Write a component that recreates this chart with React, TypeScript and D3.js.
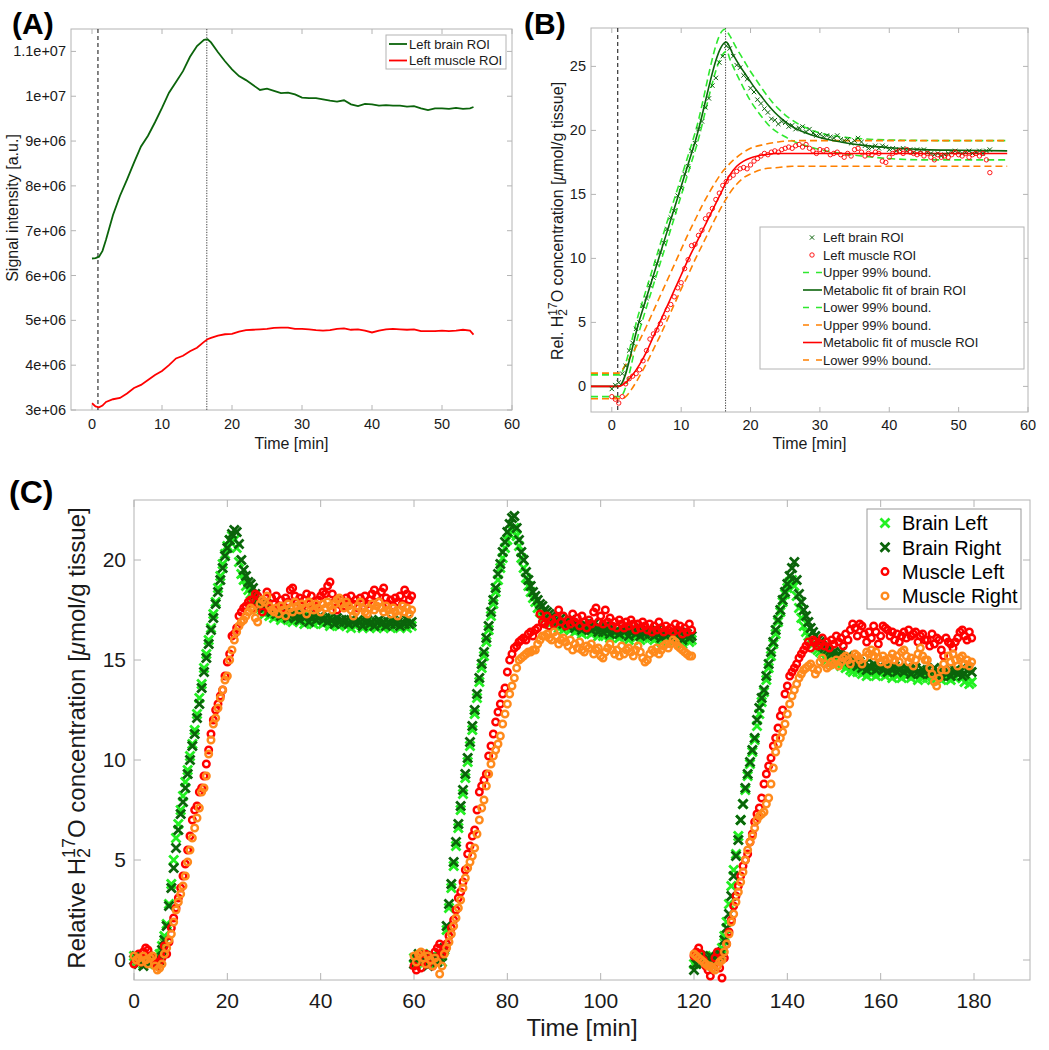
import React from "react";
import * as d3 from "d3";

// ---------------- Panel A data (signal, ×1e6 a.u.) ----------------
const timeA = [0, 0.5, 1, 1.5, 2, 3, 4, 5, 6, 7, 8, 9, 10, 11, 12, 13, 14, 15, 16, 16.5,
  17, 18, 19, 20, 21, 22, 23, 24, 25, 26, 27, 28, 29, 30, 31, 32, 33, 34, 35, 36, 37, 38, 39, 40,
  41, 42, 43, 44, 45, 46, 47, 48, 49, 50, 51, 52, 53, 54, 54.5];
const brainSignalA = [6.38, 6.39, 6.42, 6.55, 6.80, 7.35, 7.78, 8.14, 8.52, 8.88, 9.12, 9.42, 9.74, 10.08, 10.32, 10.56, 10.88, 11.12, 11.26, 11.27,
  11.20, 10.98, 10.78, 10.60, 10.45, 10.36, 10.25, 10.14, 10.17, 10.12, 10.07, 10.08, 10.04, 9.97, 9.96, 9.96, 9.93, 9.90, 9.88, 9.91, 9.82, 9.78, 9.83, 9.82,
  9.79, 9.80, 9.79, 9.79, 9.77, 9.78, 9.73, 9.69, 9.73, 9.73, 9.72, 9.74, 9.72, 9.73, 9.76];
const muscleSignalA = [3.15, 3.08, 3.06, 3.10, 3.18, 3.24, 3.27, 3.37, 3.49, 3.56, 3.67, 3.78, 3.87, 4.00, 4.15, 4.21, 4.31, 4.39, 4.52, 4.58,
  4.61, 4.66, 4.69, 4.70, 4.75, 4.78, 4.79, 4.80, 4.81, 4.83, 4.84, 4.84, 4.81, 4.81, 4.80, 4.78, 4.77, 4.78, 4.81, 4.82, 4.79, 4.80, 4.77, 4.73,
  4.77, 4.80, 4.81, 4.80, 4.79, 4.80, 4.76, 4.76, 4.76, 4.77, 4.76, 4.77, 4.79, 4.77, 4.68];
const yTicksA = [3, 4, 5, 6, 7, 8, 9, 10, 11];
const yTickLabelsA = ["3e+06", "4e+06", "5e+06", "6e+06", "7e+06", "8e+06", "9e+06", "1e+07", "1.1e+07"];
const xTicksAB = [0, 10, 20, 30, 40, 50, 60];
const injectionStart = 0.85;
const injectionEnd = 16.4;

// ---------------- Panel B data ----------------
const scatterStepB = 0.5;
const brainScatterB = [
  -0.2, 0.1, 0.3, 1.0, 1.6, 2.8, 3.4, 4.5, 5.0, 6.3,
  6.9, 7.9, 8.5, 9.6, 10.5, 11.2, 12.3, 13.2, 13.7, 14.9,
  15.5, 16.6, 17.2, 18.4, 19.0, 20.1, 20.7, 21.8, 22.5, 23.5,
  24.1, 25.3, 25.8, 26.6, 26.4, 25.8, 25.1, 24.9, 24.3, 24.0,
  23.3, 23.0, 22.4, 22.1, 21.7, 21.4, 20.9, 20.8, 20.5, 20.7,
  20.6, 20.3, 20.4, 20.1, 20.2, 20.3, 19.9, 20.1, 19.8, 19.6,
  19.7, 19.5, 19.6, 19.5, 19.4, 19.6, 19.3, 19.2, 19.3, 19.0,
  19.2, 19.4, 19.1, 18.8, 18.6, 18.7, 18.8, 18.6, 18.8, 18.7,
  18.5, 18.6, 18.4, 18.5, 18.6, 18.4, 18.5, 18.3, 18.5, 18.4,
  18.5, 18.3, 18.2, 18.1, 18.2, 18.0, 18.1, 18.2, 18.3, 18.4,
  18.3, 18.2, 18.3, 18.4, 18.2, 18.3, 18.4, 18.2, 18.4, 18.5];
const muscleScatterB = [
  -0.8, -1.0, -1.3, -0.8, 0.2, 0.6, 0.8, 1.0, 1.3, 2.0,
  2.8, 3.7, 4.1, 4.4, 4.9, 5.4, 6.0, 6.4, 7.0, 7.7,
  8.1, 9.2, 9.9, 11.0, 11.1, 11.8, 12.2, 13.1, 13.4, 13.9,
  14.6, 15.1, 15.7, 16.0, 16.3, 16.5, 16.8, 17.0, 17.1, 17.0,
  17.3, 17.6, 17.8, 18.0, 18.2, 18.1, 18.3, 18.4, 18.3, 18.5,
  18.6, 18.7, 18.6, 18.8, 18.9, 18.7, 18.9, 18.6, 18.4, 18.2,
  18.5, 18.4, 18.5, 18.1, 18.2, 18.3, 18.1, 17.9, 18.2, 18.0,
  18.5, 18.6, 18.3, 18.0, 18.2, 18.1, 18.3, 18.2, 17.6, 17.5,
  17.9, 18.2, 18.3, 18.4, 18.2, 18.5, 18.3, 18.2, 18.1, 18.2,
  18.0, 18.2, 17.9, 17.7, 18.1, 17.9, 18.0, 17.9, 18.1, 18.3,
  18.1, 18.0, 18.2, 17.9, 18.1, 18.2, 18.0, 18.2, 17.7, 16.7];

const brainFitT = [-3, 1, 4, 8, 12, 16.5, 17.5, 18.5, 19.5, 20.5, 21.5, 22.5, 23.5, 24.5, 26, 28, 30, 33, 36, 40, 45, 50, 57];
const brainFitV = [0, 0, 5.2, 12.15, 19.1, 26.9, 25.9, 25.0, 24.2, 23.4, 22.7, 22.0, 21.4, 20.9, 20.3, 19.8, 19.45, 19.1, 18.85, 18.65, 18.5, 18.45, 18.4];
const brainUpperT = [-3, 1.0, 4, 8, 12, 16.3, 17, 18, 19, 20, 21, 22, 23, 24, 25, 26, 28, 30, 33, 36, 40, 50, 57];
const brainUpperV = [0.9, 0.9, 5.9, 12.9, 19.8, 27.9, 27.4, 26.4, 25.5, 24.6, 23.8, 23.0, 22.3, 21.7, 21.2, 20.8, 20.2, 19.8, 19.5, 19.35, 19.25, 19.2, 19.2];
const brainLowerT = [-3, 1.2, 4, 8, 12, 16.6, 17, 18, 19, 20, 21, 22, 23, 24, 25, 26, 28, 30, 33, 36, 40, 45, 57];
const brainLowerV = [-0.8, -0.8, 4.4, 11.4, 18.4, 26.2, 25.6, 24.4, 23.3, 22.3, 21.5, 20.8, 20.2, 19.8, 19.5, 19.2, 18.8, 18.5, 18.2, 18.0, 17.8, 17.7, 17.7];
const muscleFitT = [-3, 1, 2, 3, 4, 5, 6, 7, 8, 9, 10, 11, 12, 13, 14, 15, 16, 16.5, 17, 18, 19, 20, 21, 22, 24, 27, 57];
const muscleFitV = [0, 0, 0.3, 0.9, 1.7, 2.7, 3.9, 5.1, 6.3, 7.5, 8.7, 9.9, 11.0, 12.1, 13.2, 14.3, 15.4, 16.0, 16.5, 17.2, 17.6, 17.85, 18.0, 18.1, 18.2, 18.2, 18.2];
const muscleUpperT = [-3, 1, 1.5, 2, 3, 4, 5, 6, 7, 8, 9, 10, 11, 12, 13, 14, 15, 16, 17, 18, 19, 20, 22, 24, 27, 57];
const muscleUpperV = [1.04, 1.04, 1.3, 1.7, 2.6, 3.6, 4.7, 5.9, 7.1, 8.3, 9.5, 10.7, 11.9, 13.0, 14.1, 15.1, 16.0, 16.8, 17.4, 17.9, 18.3, 18.6, 18.9, 19.1, 19.2, 19.2];
const muscleLowerT = [-3, 1.5, 2, 3, 4, 5, 6, 7, 8, 9, 10, 11, 12, 13, 14, 15, 16, 17, 18, 19, 20, 22, 24, 26, 28, 57];
const muscleLowerV = [-0.97, -0.97, -0.8, -0.1, 0.8, 1.8, 2.9, 4.0, 5.2, 6.4, 7.6, 8.7, 9.9, 11.0, 12.1, 13.2, 14.2, 15.1, 15.8, 16.3, 16.6, 17.0, 17.1, 17.2, 17.2, 17.2];
const yTicksB = [0, 5, 10, 15, 20, 25];

// ---------------- Panel C data (three sessions, 0.5 min sampling) ----------------
const sessionStartsC = [0, 60, 120];
const stepC = 0.5;
const brainLeftC = [
  [0.2, -0.1, 0.1, 0.0, -0.2, 0.1, -0.1, 0.0, 0.1, -0.2,
   0.0, 0.3, 0.7, 1.2, 1.8, 2.8, 3.8, 5.0, 6.1, 6.8,
   7.5, 8.2, 8.9, 9.5, 10.2, 10.8, 11.5, 12.3, 13.1, 13.8,
   14.6, 15.3, 16.0, 16.6, 17.3, 17.9, 18.6, 19.2, 19.8, 20.3,
   20.7, 21.0, 21.2, 21.0, 20.6, 19.9, 19.3, 19.0, 18.7, 18.5,
   18.3, 18.1, 17.9, 17.8, 17.6, 17.5, 17.3, 17.4, 17.2, 17.3,
   17.1, 17.3, 17.2, 17.0, 17.2, 17.1, 17.3, 17.0, 16.9, 17.1,
   17.0, 16.9, 17.1, 16.8, 17.0, 17.2, 16.9, 16.8, 17.0, 16.9,
   17.1, 16.8, 16.9, 17.0, 16.7, 16.9, 17.0, 16.8, 16.7, 16.9,
   16.8, 16.7, 16.9, 16.6, 16.8, 16.7, 16.9, 16.8, 16.6, 16.7,
   16.8, 16.6, 16.7, 16.9, 16.6, 16.8, 16.7, 16.6, 16.8, 16.7,
   16.6, 16.8, 16.7, 16.9, 16.6, 16.8, 16.7, 16.6, 16.8, 16.7],
  [0.1, -0.2, 0.2, 0.0, 0.3, -0.1, 0.1, -0.2, 0.2, 0.0,
   0.1, 0.2, -0.1, 0.5, 1.5, 2.6, 3.6, 4.7, 5.7, 6.6,
   7.5, 8.3, 9.1, 9.9, 10.7, 11.5, 12.3, 13.1, 13.9, 14.6,
   15.2, 15.9, 16.5, 17.2, 17.8, 18.4, 19.0, 19.6, 20.1, 20.6,
   21.0, 21.3, 21.5, 21.6, 21.2, 20.7, 20.1, 19.6, 19.1, 18.7,
   18.4, 18.1, 17.9, 17.6, 17.4, 17.3, 17.1, 16.9, 16.8, 16.9,
   16.7, 16.8, 16.6, 16.7, 16.5, 16.6, 16.8, 16.5, 16.7, 16.4,
   16.6, 16.5, 16.3, 16.6, 16.4, 16.5, 16.3, 16.6, 16.4, 16.2,
   16.4, 16.2, 16.5, 16.3, 16.1, 16.4, 16.2, 16.3, 16.1, 16.4,
   16.2, 16.3, 16.0, 16.2, 16.4, 16.1, 16.3, 16.0, 16.2, 16.1,
   16.3, 16.1, 16.2, 16.0, 16.3, 16.1, 15.9, 16.2, 16.0, 16.1,
   16.2, 15.9, 16.1, 16.0, 16.2, 15.8, 16.0, 16.1, 15.9, 16.0],
  [-0.2, 0.0, 0.3, 0.1, -0.1, 0.2, 0.0, -0.2, -0.3, 0.1,
   0.0, 0.2, 0.6, 1.2, 1.9, 2.8, 3.7, 4.5, 5.3, 6.2,
   7.0, 7.8, 8.5, 9.2, 9.8, 10.4, 11.0, 11.7, 12.3, 12.9,
   13.4, 14.0, 14.6, 15.2, 15.8, 16.3, 16.9, 17.4, 17.9, 18.3,
   18.6, 18.9, 19.0, 18.7, 18.2, 17.6, 17.1, 16.7, 16.4, 16.2,
   16.0, 15.8, 15.6, 15.5, 15.4, 15.3, 15.1, 15.0, 15.2, 14.9,
   15.0, 14.8, 14.9, 14.7, 14.8, 14.6, 14.7, 14.5, 14.4, 14.6,
   14.4, 14.5, 14.3, 14.5, 14.2, 14.4, 14.3, 14.5, 14.2, 14.4,
   14.3, 14.5, 14.2, 14.4, 14.3, 14.1, 14.4, 14.2, 14.3, 14.1,
   14.3, 14.2, 14.4, 14.1, 14.3, 14.2, 14.0, 14.3, 14.1, 14.2,
   14.1, 14.3, 14.0, 14.2, 14.1, 14.3, 14.0, 14.2, 14.1, 14.3,
   14.0, 14.2, 14.1, 14.3, 14.4, 14.1, 13.9, 14.2, 13.8, 13.9],
];
const brainRightC = [
  [0.0, 0.2, -0.2, 0.1, -0.3, -0.1, 0.2, -0.2, 0.0, -0.1,
   0.1, 0.0, 0.5, 1.0, 1.7, 2.7, 3.6, 4.6, 5.6, 6.5,
   7.3, 7.9, 8.6, 9.3, 10.0, 10.7, 11.3, 12.1, 12.8, 13.6,
   14.4, 15.1, 15.8, 16.5, 17.1, 17.8, 18.4, 19.0, 19.6, 20.2,
   20.6, 21.0, 21.3, 21.5, 21.4, 20.8, 20.0, 19.5, 19.2, 18.9,
   18.8, 18.6, 18.3, 18.0, 17.9, 17.7, 17.6, 17.8, 17.5, 17.4,
   17.5, 17.3, 17.4, 17.2, 17.3, 17.4, 17.1, 17.2, 17.3, 17.1,
   17.2, 17.0, 17.3, 17.1, 17.2, 16.9, 17.1, 17.3, 17.0, 17.1,
   17.2, 17.0, 17.1, 16.9, 17.1, 17.0, 16.8, 17.1, 16.9, 17.0,
   16.9, 17.0, 16.8, 17.0, 16.9, 16.8, 17.0, 16.9, 16.7, 16.9,
   17.0, 16.8, 16.9, 16.7, 16.9, 17.0, 16.8, 16.9, 16.7, 16.9,
   16.8, 17.0, 16.8, 16.9, 16.7, 16.9, 16.8, 17.0, 16.8, 16.9],
  [-0.2, 0.1, 0.3, -0.1, 0.0, 0.2, -0.3, 0.1, 0.0, 0.2,
   -0.1, 0.1, 0.2, 0.6, 1.7, 2.8, 3.8, 4.9, 5.9, 6.8,
   7.7, 8.5, 9.3, 10.1, 10.9, 11.7, 12.5, 13.3, 14.1, 14.8,
   15.4, 16.1, 16.7, 17.4, 18.0, 18.6, 19.3, 19.8, 20.4, 20.9,
   21.4, 21.8, 22.1, 22.2, 21.6, 21.0, 20.4, 20.0, 19.4, 19.0,
   18.7, 18.4, 18.2, 18.0, 17.8, 17.7, 17.5, 17.4, 17.3, 17.2,
   17.1, 17.0, 16.9, 17.1, 16.8, 16.9, 16.7, 17.0, 16.8, 16.6,
   16.8, 16.7, 16.5, 16.8, 16.6, 16.7, 16.5, 16.8, 16.6, 16.4,
   16.6, 16.4, 16.7, 16.5, 16.3, 16.6, 16.4, 16.5, 16.3, 16.6,
   16.4, 16.5, 16.2, 16.4, 16.6, 16.3, 16.5, 16.2, 16.4, 16.3,
   16.5, 16.3, 16.4, 16.2, 16.5, 16.3, 16.1, 16.4, 16.2, 16.3,
   16.4, 16.1, 16.3, 16.2, 16.4, 16.0, 16.2, 16.3, 16.1, 16.2],
  [-0.5, -0.2, 0.1, 0.2, -0.1, 0.0, 0.1, 0.2, 0.1, 0.0,
   0.2, 0.3, 0.4, 1.0, 1.6, 2.3, 3.2, 4.2, 5.2, 6.0,
   7.0, 7.8, 8.6, 9.3, 9.9, 10.5, 11.1, 12.0, 12.6, 13.1,
   13.5, 14.2, 14.8, 15.4, 15.9, 16.5, 17.0, 17.5, 18.0, 18.4,
   18.8, 19.2, 19.6, 19.9, 19.0, 18.3, 17.9, 17.5, 17.2, 16.9,
   16.6, 16.4, 16.2, 16.0, 15.9, 15.7, 15.6, 15.5, 15.4, 15.3,
   15.4, 15.2, 15.3, 15.4, 15.1, 15.0, 15.2, 14.9, 14.8, 15.0,
   14.7, 14.9, 14.6, 14.8, 14.5, 14.7, 14.6, 14.8, 14.5, 14.6,
   14.7, 14.5, 14.6, 14.4, 14.6, 14.5, 14.7, 14.4, 14.5, 14.6,
   14.4, 14.6, 14.5, 14.3, 14.5, 14.6, 14.4, 14.3, 14.5, 14.4,
   14.5, 14.3, 14.4, 14.6, 14.3, 14.4, 14.2, 14.5, 14.3, 14.4,
   14.2, 14.4, 14.5, 14.3, 14.4, 14.2, 14.3, 14.5, 14.6, 14.4],
];
const muscleLeftC = [
  [-0.2, 0.0, 0.3, -0.1, 0.4, 0.6, 0.5, 0.2, 0.1, -0.2,
   -0.3, -0.1, 0.1, 0.7, 0.3, 0.9, 1.6, 2.1, 2.6, 3.1,
   3.6, 4.2, 4.8, 5.5, 6.2, 7.0, 7.5, 7.7, 8.4, 8.6,
   9.2, 9.8, 10.5, 11.3, 12.0, 12.5, 12.8, 13.2, 13.5, 14.2,
   14.9, 15.3, 16.2, 16.3, 16.6, 17.2, 17.4, 17.6, 17.7, 17.9,
   18.0, 17.6, 18.3, 18.2, 17.8, 17.4, 17.9, 18.4, 17.6, 18.1,
   17.8, 18.2, 17.7, 18.0, 17.6, 18.1, 17.9, 18.5, 18.6, 18.2,
   17.9, 18.1, 17.7, 18.0, 18.3, 17.8, 18.2, 17.9, 17.6, 18.0,
   18.2, 18.4, 18.3, 18.7, 18.9, 18.3, 17.9, 17.5, 17.8, 18.0,
   17.7, 18.1, 17.9, 18.2, 17.8, 18.0, 17.6, 18.1, 17.9, 18.2,
   17.8, 18.0, 18.3, 18.5, 18.2, 17.9, 18.4, 18.6, 18.1, 17.8,
   18.0, 17.7, 18.1, 17.9, 18.2, 17.8, 18.5, 18.3, 18.0, 18.2],
  [-0.3, -0.5, 0.2, -0.4, 0.1, 0.3, -0.2, 0.0, -0.3, 0.4,
   0.6, 0.8, 0.3, 0.5, 0.8, 1.2, 1.6, 2.0, 2.5, 3.1,
   3.4, 3.9, 4.5, 5.3, 5.7, 6.2, 6.5, 7.5, 8.4, 8.7,
   9.0, 9.3, 10.2, 10.7, 11.3, 11.9, 12.4, 12.8, 13.3, 13.6,
   14.4, 15.0, 15.3, 15.6, 15.7, 15.9, 16.0, 16.1, 16.0, 16.3,
   16.4, 16.2, 16.5, 16.6, 17.3, 16.9, 16.8, 17.2, 16.7, 17.0,
   16.8, 17.1, 17.5, 16.9, 17.2, 16.7, 17.0, 16.8, 17.3, 16.9,
   17.1, 16.7, 17.2, 16.9, 16.6, 17.0, 16.8, 17.4, 17.6, 16.9,
   17.2, 16.8, 17.5, 16.9, 17.1, 16.7, 16.9, 16.6, 17.0, 16.8,
   16.6, 16.9, 16.7, 17.0, 16.8, 16.5, 16.8, 16.6, 16.9, 16.7,
   16.5, 16.8, 16.4, 16.7, 16.5, 16.9, 16.6, 16.4, 16.7, 16.5,
   16.6, 16.4, 16.8, 16.5, 16.7, 16.3, 16.6, 16.4, 16.8, 16.5],
  [0.2, 0.4, 0.6, 0.3, 0.0, -0.3, -0.5, -0.8, -0.4, 0.1,
   0.4, -0.4, -0.9, 0.1, 0.8, 1.4, 2.0, 2.7, 3.2, 3.7,
   4.2, 4.7, 5.0, 5.3, 5.9, 6.3, 6.9, 7.3, 7.6, 8.1,
   8.8, 9.3, 9.7, 10.1, 10.7, 11.1, 11.6, 12.2, 12.5, 13.3,
   13.7, 14.2, 14.4, 14.6, 14.8, 15.1, 15.3, 15.5, 15.7, 15.9,
   15.6, 16.0, 15.9, 15.7, 15.8, 16.1, 15.7, 15.9, 15.6, 16.0,
   15.8, 16.2, 15.9, 16.1, 15.7, 16.3, 16.0, 16.5, 16.8, 16.6,
   16.2, 16.8, 16.7, 16.3, 15.9, 16.4, 16.1, 16.7, 16.4, 15.8,
   16.2, 16.7, 16.6, 16.5, 16.2, 16.4, 16.0, 16.3, 15.9, 16.2,
   16.4, 16.1, 16.5, 16.2, 16.3, 16.4, 15.9, 16.2, 16.3, 16.0,
   16.0, 15.7, 16.3, 15.8, 16.1, 16.0, 15.5, 15.2, 16.1, 15.9,
   15.8, 15.6, 15.9, 16.1, 16.4, 16.5, 16.2, 16.0, 16.4, 16.1],
];
const muscleRightC = [
  [0.2, 0.0, 0.1, -0.1, 0.2, 0.0, -0.2, 0.1, 0.2, -0.3,
   -0.5, -0.4, -0.2, 0.3, 0.6, 1.0, 1.3, 1.9, 2.5, 2.9,
   3.3, 3.7, 4.2, 4.9, 5.5, 6.1, 6.6, 7.1, 7.6, 8.4,
   8.6, 9.2, 10.3, 11.0, 11.8, 12.1, 12.6, 13.1, 13.5, 14.0,
   14.2, 15.0, 15.5, 16.0, 16.4, 16.7, 16.9, 17.0, 17.2, 17.4,
   17.6, 17.5, 17.1, 16.9, 17.8, 18.0, 17.9, 18.2, 17.7, 17.5,
   17.4, 17.6, 17.3, 17.7, 17.5, 17.2, 17.8, 17.6, 17.4, 17.9,
   17.7, 17.5, 17.8, 17.6, 17.3, 17.9, 17.7, 17.5, 17.8, 17.6,
   17.4, 17.8, 17.6, 17.9, 17.7, 17.5, 17.8, 18.0, 18.1, 17.8,
   17.6, 17.9, 17.7, 17.5, 17.2, 17.4, 17.7, 17.9, 17.6, 17.4,
   17.3, 17.6, 17.8, 17.5, 17.7, 17.9, 17.6, 17.4, 17.7, 17.5,
   17.3, 17.6, 17.4, 17.2, 17.5, 17.7, 17.4, 17.6, 17.3, 17.5],
  [0.2, -0.1, 0.3, 0.4, 0.1, -0.2, 0.2, 0.0, -0.3, 0.1,
   -0.1, -0.7, -0.3, 0.3, 0.6, 0.9, 1.3, 1.7, 2.1, 2.6,
   3.0, 3.6, 4.1, 4.6, 4.9, 5.2, 5.6, 6.3, 7.0, 7.6,
   8.0, 8.7, 9.3, 9.8, 10.2, 10.5, 10.8, 11.2, 11.8, 12.3,
   12.8, 13.3, 13.7, 14.1, 14.6, 15.0, 15.1, 15.2, 15.3, 15.4,
   15.4, 15.5, 15.5, 15.8, 16.0, 16.2, 16.2, 16.3, 16.1, 16.0,
   16.4, 16.2, 15.8, 16.0, 16.1, 15.9, 15.7, 16.0, 15.5, 15.8,
   15.6, 15.9, 15.5, 15.4, 15.7, 15.6, 15.8, 15.3, 15.5, 15.6,
   15.2, 15.1, 15.4, 15.6, 15.8, 15.5, 15.3, 15.5, 15.2, 15.7,
   15.3, 15.5, 15.6, 15.4, 15.2, 15.5, 15.7, 15.4, 15.1, 14.9,
   15.0, 15.3, 15.5, 15.4, 15.6, 15.3, 15.5, 15.7, 15.8, 15.6,
   15.8, 16.0, 15.9, 15.7, 15.6, 15.5, 15.4, 15.3, 15.2, 15.2],
  [0.3, 0.2, 0.1, 0.0, -0.1, -0.2, -0.3, -0.3, -0.4, -0.5,
   -0.3, -0.1, 0.0, 0.4, 0.8, 1.3, 1.9, 2.3, 2.9, 3.4,
   3.9, 4.4, 5.0, 5.5, 5.9, 6.2, 6.6, 7.0, 7.2, 7.3,
   7.4, 7.8, 8.1, 8.8, 9.6, 10.4, 10.8, 11.1, 11.4, 11.8,
   12.3, 12.8, 13.2, 13.5, 13.8, 14.1, 14.3, 14.5, 14.6, 14.7,
   14.8, 14.6, 14.3, 14.5, 14.9, 15.1, 14.8, 14.6, 14.7, 14.9,
   14.8, 15.0, 14.7, 14.9, 15.1, 15.2, 15.0, 14.8, 15.1, 15.3,
   15.2, 15.0, 14.8, 15.1, 15.4, 15.3, 15.5, 15.2, 15.4, 15.1,
   14.9, 15.2, 15.0, 14.8, 15.1, 15.3, 15.0, 15.2, 14.9, 15.4,
   15.5, 15.2, 14.9, 15.1, 14.7, 15.0, 15.3, 15.6, 15.2, 15.0,
   15.0, 14.6, 14.3, 13.9, 13.7, 14.1, 14.5, 14.8, 14.5, 15.2,
   14.9, 15.3, 15.0, 14.7, 15.1, 15.2, 14.8, 15.0, 14.7, 14.9],
];
const xTicksC = [0, 20, 40, 60, 80, 100, 120, 140, 160, 180];
const yTicksC = [0, 5, 10, 15, 20];
const legendC = ["Brain Left", "Brain Right", "Muscle Left", "Muscle Right"];
const legendA = ["Left brain ROI", "Left muscle ROI"];
const legendB = ["Left brain ROI", "Left muscle ROI", "Upper 99% bound.", "Metabolic fit of brain ROI",
  "Lower 99% bound.", "Upper 99% bound.", "Metabolic fit of muscle ROI", "Lower 99% bound."];

// ---------------- styling ----------------
const FONT = "'Liberation Sans', Arial, Helvetica, sans-serif";
const AXIS = "#b4b4b4";
const TXT = "#1a1a1a";
const C_LGREEN = "#22f022";
const C_DGREEN = "#0b640b";
const C_RED = "#ff0000";
const C_ORANGE = "#ff8a1c";
const C_BGREEN_DASH = "#2fe82f";
const C_BORANGE_DASH = "#ff8000";

const xMark = (cx: number, cy: number, s: number) =>
  `M${cx - s},${cy - s}L${cx + s},${cy + s}M${cx - s},${cy + s}L${cx + s},${cy - s}`;

type FrameProps = {
  xs: d3.ScaleLinear<number, number>;
  ys: d3.ScaleLinear<number, number>;
  xTicks: number[];
  yTicks: number[];
  tl: number;
};
function Frame({ xs, ys, xTicks, yTicks, tl }: FrameProps) {
  const [x0, x1] = xs.range();
  const [y0, y1] = ys.range();
  return (
    <g stroke={AXIS} strokeWidth={1} fill="none">
      <rect x={x0} y={y1} width={x1 - x0} height={y0 - y1} />
      {xTicks.map((t) => (
        <g key={"xt" + t}>
          <line x1={xs(t)} x2={xs(t)} y1={y0} y2={y0 - tl} />
          <line x1={xs(t)} x2={xs(t)} y1={y1} y2={y1 + tl} />
        </g>
      ))}
      {yTicks.map((t) => (
        <g key={"yt" + t}>
          <line x1={x0} x2={x0 + tl} y1={ys(t)} y2={ys(t)} />
          <line x1={x1} x2={x1 - tl} y1={ys(t)} y2={ys(t)} />
        </g>
      ))}
    </g>
  );
}

function ConcLabel({ x, y, size, prefix }: { x: number; y: number; size: number; prefix: string }) {
  const sub = Math.round(size * 0.73);
  const d1 = size * 0.22;
  const d2 = size * 0.62;
  return (
    <text transform={`translate(${x},${y}) rotate(-90)`} textAnchor="middle" fontSize={size} fill={TXT} fontFamily={FONT}>
      {prefix}H
      <tspan fontSize={sub} dy={d1}>2</tspan>
      <tspan fontSize={sub} dx={-sub * 0.56} dy={-d2}>17</tspan>
      <tspan dy={d2 - d1}>O concentration [</tspan>
      <tspan fontStyle="italic">μ</tspan>
      <tspan>mol/g tissue]</tspan>
    </text>
  );
}

export default function App() {
  // ---- Panel A ----
  const xA = d3.scaleLinear().domain([-3, 60]).range([71, 512]);
  const yA = d3.scaleLinear().domain([3, 11.5]).range([410, 29]);
  const lineA = d3.line<[number, number]>().x((d) => xA(d[0])).y((d) => yA(d[1]));
  const brainPtsA = timeA.map((t, i) => [t, brainSignalA[i]] as [number, number]).filter((d) => d[1] !== undefined);
  const musclePtsA = timeA.map((t, i) => [t, muscleSignalA[i]] as [number, number]).filter((d) => d[1] !== undefined);

  // ---- Panel B ----
  const xB = d3.scaleLinear().domain([-3, 60]).range([591, 1028]);
  const yB = d3.scaleLinear().domain([-2, 28]).range([412, 28]);
  const curveB = d3.line<[number, number]>().x((d) => xB(d[0])).y((d) => yB(d[1])).curve(d3.curveMonotoneX);
  const zipPts = (ts: number[], vs: number[]) => ts.map((t, i) => [t, vs[i]] as [number, number]).filter((d) => d[1] !== undefined);
  const boundsB = [
    { pts: zipPts(brainUpperT, brainUpperV), color: C_BGREEN_DASH, dash: "7,4" },
    { pts: zipPts(brainLowerT, brainLowerV), color: C_BGREEN_DASH, dash: "7,4" },
    { pts: zipPts(muscleUpperT, muscleUpperV), color: C_BORANGE_DASH, dash: "7,4" },
    { pts: zipPts(muscleLowerT, muscleLowerV), color: C_BORANGE_DASH, dash: "7,4" },
  ];

  // ---- Panel C ----
  const xC = d3.scaleLinear().domain([0, 192]).range([134, 1030]);
  const yC = d3.scaleLinear().domain([-1, 23]).range([980, 500]);
  const flatten = (sets: number[][]) =>
    sets.flatMap((arr, s) => arr.map((v, i) => ({ t: sessionStartsC[s] + i * stepC, v })));
  const seriesC = [
    { name: legendC[0], pts: flatten(brainLeftC), color: C_LGREEN, kind: "x" },
    { name: legendC[1], pts: flatten(brainRightC), color: C_DGREEN, kind: "x" },
    { name: legendC[2], pts: flatten(muscleLeftC), color: C_RED, kind: "o" },
    { name: legendC[3], pts: flatten(muscleRightC), color: C_ORANGE, kind: "o" },
  ];

  return (
    <svg width={1049} height={1050} style={{ position: "absolute", left: 0, top: 0, background: "#fff" }} fontFamily={FONT}>
      <rect x={0} y={0} width={1049} height={1050} fill="#fff" />

      {/* ================= Panel A ================= */}
      <text x={12} y={34} fontSize={30} fontWeight="bold" fill="#000">(A)</text>
      <Frame xs={xA} ys={yA} xTicks={xTicksAB} yTicks={yTicksA} tl={5} />
      {yTicksA.map((t, i) => (
        <text key={"ayl" + t} x={66} y={yA(t)} dy="0.35em" textAnchor="end" fontSize={14.5} fill={TXT}>{yTickLabelsA[i]}</text>
      ))}
      {xTicksAB.map((t) => (
        <text key={"axl" + t} x={xA(t)} y={429} textAnchor="middle" fontSize={14.5} fill={TXT}>{t}</text>
      ))}
      <text x={(71 + 512) / 2} y={449} textAnchor="middle" fontSize={16} fill={TXT}>Time [min]</text>
      <text transform={`translate(18,208) rotate(-90)`} textAnchor="middle" fontSize={16} fill={TXT}>Signal intensity [a.u.]</text>
      <line x1={xA(injectionStart)} x2={xA(injectionStart)} y1={29} y2={410} stroke="#333" strokeWidth={1.2} strokeDasharray="4,3" />
      <line x1={xA(injectionEnd)} x2={xA(injectionEnd)} y1={29} y2={410} stroke="#444" strokeWidth={1} strokeDasharray="1.3,1.3" />
      <path d={lineA(brainPtsA) || ""} fill="none" stroke={C_DGREEN} strokeWidth={1.8} />
      <path d={lineA(musclePtsA) || ""} fill="none" stroke={C_RED} strokeWidth={1.8} />
      <g>
        <rect x={386} y={35} width={120} height={34} fill="#fff" stroke={AXIS} />
        {legendA.map((name, i) => (
          <g key={"la" + i}>
            <line x1={389} x2={407} y1={44 + i * 16.5} y2={44 + i * 16.5} stroke={i === 0 ? C_DGREEN : C_RED} strokeWidth={1.8} />
            <text x={409} y={44 + i * 16.5} dy="0.35em" fontSize={13} fill={TXT}>{name}</text>
          </g>
        ))}
      </g>

      {/* ================= Panel B ================= */}
      <text x={524} y={34} fontSize={30} fontWeight="bold" fill="#000">(B)</text>
      <Frame xs={xB} ys={yB} xTicks={xTicksAB} yTicks={yTicksB} tl={5} />
      {yTicksB.map((t) => (
        <text key={"byl" + t} x={586} y={yB(t)} dy="0.35em" textAnchor="end" fontSize={14.5} fill={TXT}>{t}</text>
      ))}
      {xTicksAB.map((t) => (
        <text key={"bxl" + t} x={xB(t)} y={430} textAnchor="middle" fontSize={14.5} fill={TXT}>{t}</text>
      ))}
      <text x={(591 + 1028) / 2} y={449} textAnchor="middle" fontSize={16} fill={TXT}>Time [min]</text>
      <ConcLabel x={563} y={221} size={16} prefix="Rel. " />
      <line x1={xB(injectionStart)} x2={xB(injectionStart)} y1={28} y2={412} stroke="#333" strokeWidth={1.2} strokeDasharray="4,3" />
      <line x1={xB(injectionEnd)} x2={xB(injectionEnd)} y1={28} y2={412} stroke="#444" strokeWidth={1} strokeDasharray="1.3,1.3" />
      {boundsB.map((b, i) => (
        <path key={"bb" + i} d={curveB(b.pts) || ""} fill="none" stroke={b.color} strokeWidth={1.6} strokeDasharray={b.dash} />
      ))}
      <path d={curveB(zipPts(brainFitT, brainFitV)) || ""} fill="none" stroke={C_DGREEN} strokeWidth={1.6} />
      <path d={curveB(zipPts(muscleFitT, muscleFitV)) || ""} fill="none" stroke={C_RED} strokeWidth={1.6} />
      {brainScatterB.map((v, i) => (
        <path key={"bs" + i} d={xMark(xB(i * scatterStepB), yB(v), 2.2)} stroke={C_DGREEN} strokeWidth={1} fill="none" />
      ))}
      {muscleScatterB.map((v, i) => (
        <circle key={"ms" + i} cx={xB(i * scatterStepB)} cy={yB(v)} r={2.2} stroke={C_RED} strokeWidth={0.9} fill="none" />
      ))}
      <g>
        <rect x={760} y={227} width={264} height={142} fill="#fff" stroke={AXIS} />
        {legendB.map((name, i) => {
          const yy = 237.5 + i * 17.5;
          let sample: React.ReactNode = null;
          if (i === 0) sample = <path d={xMark(812, yy, 2.2)} stroke={C_DGREEN} strokeWidth={1} fill="none" />;
          else if (i === 1) sample = <circle cx={812} cy={yy} r={2.2} stroke={C_RED} strokeWidth={0.9} fill="none" />;
          else {
            const col = i === 3 ? C_DGREEN : i === 6 ? C_RED : i < 5 ? C_BGREEN_DASH : C_BORANGE_DASH;
            const dashed = !(i === 3 || i === 6);
            sample = <line x1={803} x2={822} y1={yy} y2={yy} stroke={col} strokeWidth={1.6} strokeDasharray={dashed ? "6,7" : undefined} />;
          }
          return (
            <g key={"lb" + i}>
              {sample}
              <text x={823} y={yy} dy="0.35em" fontSize={13} fill={TXT}>{name}</text>
            </g>
          );
        })}
      </g>

      {/* ================= Panel C ================= */}
      <text x={9} y={503} fontSize={32} fontWeight="bold" fill="#000">(C)</text>
      <Frame xs={xC} ys={yC} xTicks={xTicksC} yTicks={yTicksC} tl={7} />
      {yTicksC.map((t) => (
        <text key={"cyl" + t} x={126} y={yC(t)} dy="0.35em" textAnchor="end" fontSize={21} fill={TXT}>{t}</text>
      ))}
      {xTicksC.map((t) => (
        <text key={"cxl" + t} x={xC(t)} y={1008} textAnchor="middle" fontSize={21} fill={TXT}>{t}</text>
      ))}
      <text x={(134 + 1030) / 2} y={1036} textAnchor="middle" fontSize={24} fill={TXT}>Time [min]</text>
      <ConcLabel x={85} y={738} size={24} prefix="Relative " />
      {seriesC.map((s, si) => (
        <g key={"sc" + si}>
          {s.pts.map((p, i) =>
            s.kind === "x" ? (
              <path key={i} d={xMark(xC(p.t), yC(p.v), 4.5)} stroke={s.color} strokeWidth={2.8} fill="none" />
            ) : (
              <circle key={i} cx={xC(p.t)} cy={yC(p.v)} r={3.3} stroke={s.color} strokeWidth={2.4} fill="none" />
            )
          )}
        </g>
      ))}
      <g>
        <rect x={867} y={509} width={154} height={100} fill="#fff" stroke="#999" />
        {seriesC.map((s, i) => {
          const yy = 523 + i * 24.3;
          return (
            <g key={"lc" + i}>
              {s.kind === "x" ? (
                <path d={xMark(885, yy, 4.5)} stroke={s.color} strokeWidth={2.8} fill="none" />
              ) : (
                <circle cx={885} cy={yy} r={3.3} stroke={s.color} strokeWidth={2.4} fill="none" />
              )}
              <text x={902} y={yy} dy="0.36em" fontSize={20} fill="#000">{s.name}</text>
            </g>
          );
        })}
      </g>
    </svg>
  );
}
